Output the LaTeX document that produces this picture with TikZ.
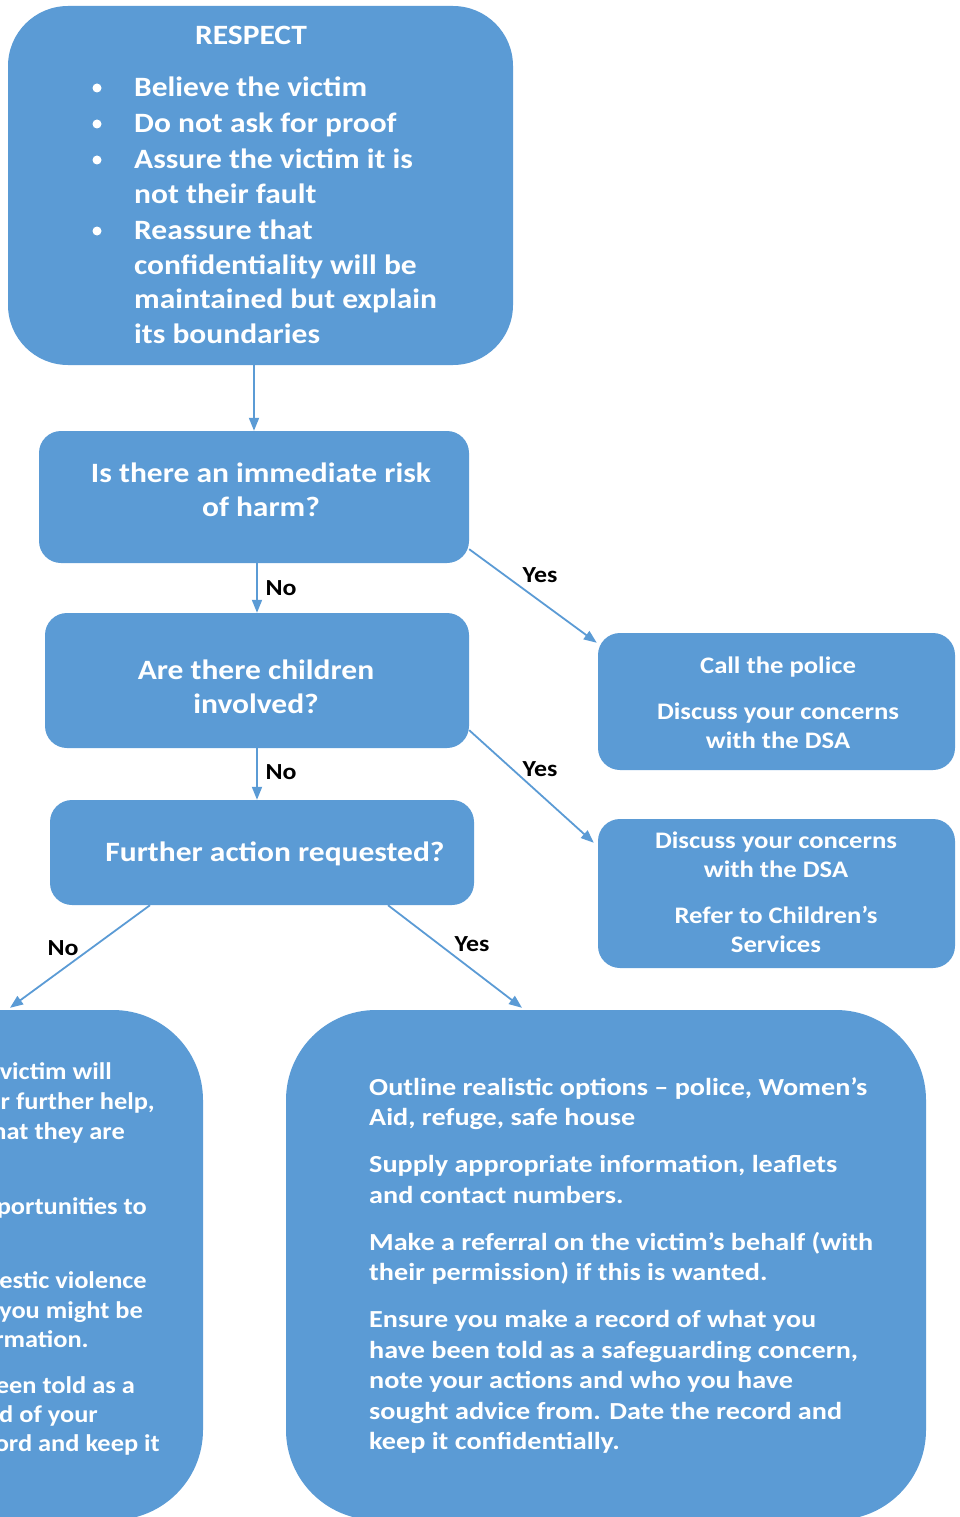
\documentclass[tikz,border=0pt]{standalone}
\usepackage{fontspec}
\setmainfont{Carlito}[FakeStretch=1.125]
\newfontfamily\widefont{Carlito}[FakeStretch=1.15]
\newfontfamily\narrowfont{Carlito}[FakeStretch=1.1]
\usetikzlibrary{arrows.meta,calc}
\definecolor{boxblue}{HTML}{5B9BD5}
\begin{document}
\begin{tikzpicture}[x=1pt,y=-1pt,
  box/.style={fill=boxblue, draw=none, rounded corners=22pt, inner sep=0pt, rectangle},
  tx/.style={text=white, font=\bfseries\fontsize{28}{34}\selectfont, inner sep=0pt},
  tm/.style={text=white, font=\bfseries\fontsize{23.7}{29}\selectfont, inner sep=0pt},
  tw/.style={text=white, font=\widefont\bfseries\fontsize{24.5}{29}\selectfont, inner sep=0pt},
  tn/.style={text=white, font=\narrowfont\bfseries\fontsize{24}{29}\selectfont, inner sep=0pt},
  lab/.style={text=black, font=\bfseries\fontsize{23}{27}\selectfont, inner sep=0pt},
  bul/.style={circle, fill=white, minimum size=9pt, inner sep=0pt},
  arr/.style={draw=boxblue, line width=1.8pt, -{Triangle[length=13pt,width=10pt]}}]
\useasboundingbox (0,0) rectangle (959,1517);
\clip (0,0) rectangle (959,1517);
% boxes
\node[box, rounded corners=60pt, minimum width=505pt, minimum height=359pt] (b1) at (260.5,185.5) {};
\node[box, minimum width=430pt, minimum height=132pt] (b2) at (254,497) {};
\node[box, minimum width=424pt, minimum height=135pt] (b3) at (257,680.5) {};
\node[box, minimum width=424pt, minimum height=105pt] (b4) at (262,852.5) {};
\node[box, minimum width=357pt, minimum height=137pt] (bp) at (776.5,701.5) {};
\node[box, minimum width=357pt, minimum height=149pt] (bc) at (776.5,893.5) {};
\node[box, rounded corners=90pt, minimum width=353pt, minimum height=510pt] (bl) at (26.5,1265) {};
\node[box, rounded corners=90pt, minimum width=640pt, minimum height=510pt] (br) at (606,1265) {};
% top box text
\node[tx, anchor=base] (t0) at (251,44.5) {RESPECT};
\node[bul] (u1) at (97,88) {};
\node[bul] (u2) at (97,124) {};
\node[bul] (u3) at (97,160) {};
\node[bul] (u4) at (97,231) {};
\node[tx, anchor=base west] (t1) at (134,96.5) {Believe the victim};
\node[tx, anchor=base west] (t2) at (134,132.5) {Do not ask for proof};
\node[tx, anchor=base west] (t3) at (134,168.5) {Assure the victim it is};
\node[tx, anchor=base west] (t4) at (134,203.5) {not their fault};
\node[tx, anchor=base west] (t5) at (134,239.5) {Reassure that};
\node[tx, anchor=base west] (t6) at (134,274.5) {confidentiality will be};
\node[tx, anchor=base west] (t7) at (134,308.5) {maintained but explain};
\node[tx, anchor=base west] (t8) at (134,343.5) {its boundaries};
% decision boxes
\node[tx, anchor=base] (q1a) at (261,482.5) {Is there an immediate risk};
\node[tx, anchor=base] (q1b) at (261,516.5) {of harm?};
\node[tx, anchor=base] (q2a) at (256,679.5) {Are there children};
\node[tx, anchor=base] (q2b) at (256,713.5) {involved?};
\node[tx, anchor=base] (q3) at (275,861.5) {Further action requested?};
% right boxes
\node[tm, anchor=base] (p1) at (778,673.7) {Call the police};
\node[tm, anchor=base] (p2) at (778,719.7) {Discuss your concerns};
\node[tm, anchor=base] (p3) at (778,748.7) {with the DSA};
\node[tm, anchor=base] (c1) at (776,848.7) {Discuss your concerns};
\node[tm, anchor=base] (c2) at (776,877.7) {with the DSA};
\node[tm, anchor=base] (c3) at (776,923.7) {Refer to Children’s};
\node[tm, anchor=base] (c4) at (776,952.7) {Services};
% bottom right text
\node[tw, anchor=base west] (r1) at (369,1095.7) {Outline realistic options – police, Women’s};
\node[tw, anchor=base west] (r2) at (369,1125.7) {Aid, refuge, safe house};
\node[tw, anchor=base west] (r3) at (369,1172.7) {Supply appropriate information, leaflets};
\node[tw, anchor=base west] (r4) at (369,1203.7) {and contact numbers.};
\node[tw, anchor=base west] (r5) at (369,1250.7) {Make a referral on the victim’s behalf (with};
\node[tw, anchor=base west] (r6) at (369,1280.7) {their permission) if this is wanted.};
\node[tw, anchor=base west] (r7) at (369,1327.7) {Ensure you make a record of what you};
\node[tw, anchor=base west] (r8) at (369,1358.7) {have been told as a safeguarding concern,};
\node[tw, anchor=base west] (r9) at (369,1388.7) {note your actions and who you have};
\node[tw, anchor=base west] (r10) at (369,1419.7) {sought advice from. Date the record and};
\node[tw, anchor=base west] (r11) at (369,1449.7) {keep it confidentially.};
% bottom left text (cut by the page edge, as in the reference)
\node[tn, anchor=base east] (l1) at (112,1079.7) {victim will};
\node[tn, anchor=base east] (l2) at (155,1109.7) {r further help,};
\node[tn, anchor=base east] (l3) at (125,1139.7) {hat they are};
\node[tn, anchor=base east] (l4) at (147,1214.7) {portunities to};
\node[tn, anchor=base east] (l5) at (147,1288.7) {estic violence};
\node[tn, anchor=base east] (l6) at (143,1318.7) {you might be};
\node[tn, anchor=base east] (l7) at (89,1347.7) {rmation.};
\node[tn, anchor=base east] (l8) at (135,1393.7) {een told as a};
\node[tn, anchor=base east] (l9) at (98,1422.7) {d of your};
\node[tn, anchor=base east] (l10) at (160,1451.7) {ord and keep it};
% connectors
\draw[arr] (b1.south -| b2.north) -- (b2.north);
\draw[arr] (b2.south -| b3.north) -- (b3.north);
\draw[arr] (b3.south) -- (b3.south |- b4.north);
\draw[arr] ([yshift=14pt]b2.south east) -- ([xshift=-1pt,yshift=-10pt]bp.north west);
\draw[arr] ([yshift=18pt]b3.south east) -- ([xshift=-4pt,yshift=-24pt]bc.north west);
\draw[arr] ([xshift=-112pt]b4.south) -- ([xshift=-16.5pt,yshift=2pt]bl.north);
\draw[arr] ([xshift=126pt]b4.south) -- ([xshift=-84pt,yshift=2pt]br.north);
% labels
\node[lab] (n1) at (281,588) {No};
\node[lab] (n2) at (281,772) {No};
\node[lab] (n3) at (63,948) {No};
\node[lab] (y1) at (540,575) {Yes};
\node[lab] (y2) at (540,769) {Yes};
\node[lab] (y3) at (472,944) {Yes};
\end{tikzpicture}
\end{document}
